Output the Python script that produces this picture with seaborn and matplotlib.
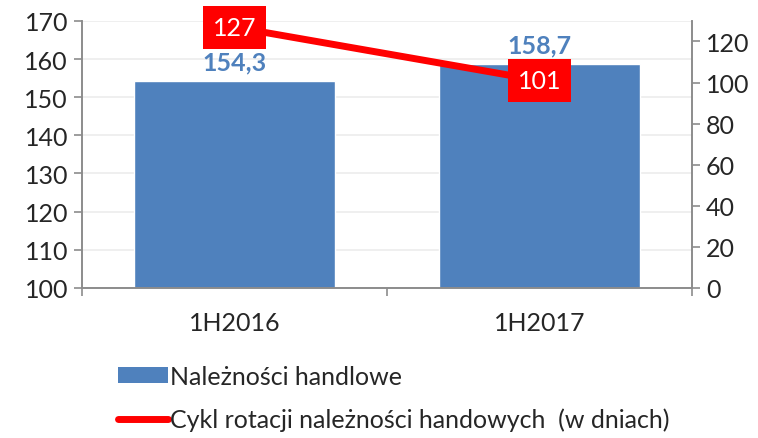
import numpy as np
import pandas as pd
import matplotlib
matplotlib.use("Agg")
import matplotlib.pyplot as plt
import seaborn as sns
from matplotlib.patches import Patch
from matplotlib.lines import Line2D

categories = ["1H2016", "1H2017"]
receivables = [154.3, 158.7]
cycle_days = [127, 101]
bar_labels = ["154,3", "158,7"]
bar_name = "Należności handlowe"
line_name = "Cykl rotacji należności handowych  (w dniach)"

sns.set_style("white")
plt.rcParams["font.family"] = ["Lato", "DejaVu Sans"]

BLUE = "#4f81bd"
RED = "#ff0000"
GRAY = "#8c8c8c"
FS = 18

fig = plt.figure(figsize=(7.58, 4.39), dpi=100)
ax = fig.add_axes([0.108, 0.342, 0.805, 0.608])

df = pd.DataFrame({"cat": categories, "val": receivables})
sns.barplot(data=df, x="cat", y="val", color=BLUE, saturation=1, width=0.66, ax=ax)
ax.set_ylim(100, 170)
ax.set_xlim(-0.5, 1.5)
ax.set_yticks(range(100, 171, 10))
ax.yaxis.grid(True, color="#ececec", linewidth=1.2)
ax.set_axisbelow(True)
ax.set_xlabel("")
ax.set_ylabel("")
ax.tick_params(axis="y", labelsize=FS, length=6, color=GRAY, left=True, width=1.2, pad=4)
ax.tick_params(axis="x", which="major", labelsize=FS, length=0, pad=17)
ax.set_xticks([-0.5, 0.5, 1.5], minor=True)
ax.tick_params(axis="x", which="minor", length=6, color=GRAY, width=1.2, bottom=True)
for s in ["left", "bottom", "right"]:
    ax.spines[s].set_color(GRAY)
    ax.spines[s].set_linewidth(1.2)
ax.spines["top"].set_visible(False)

for i, lab in enumerate(bar_labels):
    ax.text(i, receivables[i] + 1.9, lab, ha="center", va="bottom",
            color=BLUE, fontsize=FS, fontweight="bold")

ax2 = ax.twinx()
sns.lineplot(x=np.arange(len(categories)), y=cycle_days, color=RED, linewidth=5, ax=ax2)
ax2.set_ylim(0, 130)
ax2.set_yticks(range(0, 121, 20))
ax2.tick_params(axis="y", labelsize=FS, length=6, color=GRAY, right=True, width=1.2, pad=4)
for s in ["left", "bottom", "right"]:
    ax2.spines[s].set_color(GRAY)
    ax2.spines[s].set_linewidth(1.2)
ax2.spines["top"].set_visible(False)
ax2.set_xlim(-0.5, 1.5)

for i, v in enumerate(cycle_days):
    ax2.text(i, v, str(v), ha="center", va="center", color="white", fontsize=FS,
             bbox=dict(boxstyle="square,pad=0.4", facecolor=RED, edgecolor="none"))

handles = [Patch(facecolor=BLUE, edgecolor="none", label=bar_name),
           Line2D([0], [0], color=RED, linewidth=5, label=line_name)]
fig.legend(handles=handles, loc="upper left", bbox_to_anchor=(0.142, 0.19),
           frameon=False, fontsize=FS, handlelength=2.0, handleheight=0.6,
           handletextpad=0.1, labelspacing=0.8, borderaxespad=0)

fig.savefig("out.png", dpi=100)
